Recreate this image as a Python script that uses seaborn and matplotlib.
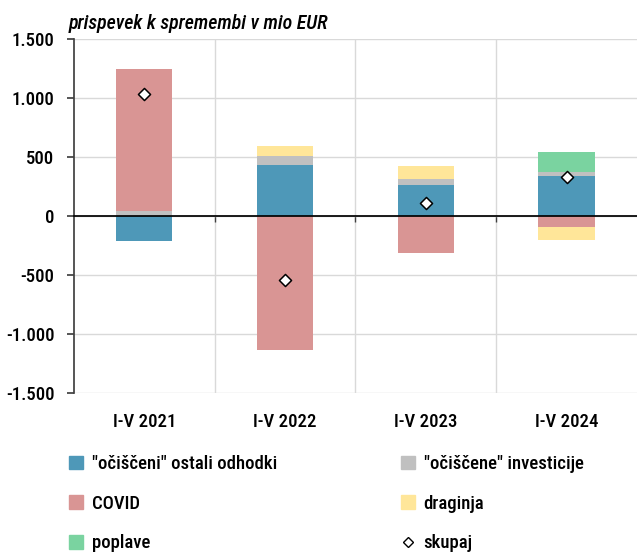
import numpy as np
import pandas as pd
import matplotlib
matplotlib.use("Agg")
import matplotlib.pyplot as plt
import seaborn as sns
from matplotlib.patches import Patch
from matplotlib.lines import Line2D
from matplotlib.ticker import FuncFormatter
from matplotlib import font_manager

categories = ["I-V 2021", "I-V 2022", "I-V 2023", "I-V 2024"]
series_names = ['"očiščeni" ostali odhodki', '"očiščene" investicije', "COVID", "draginja", "poplave"]
ociscene_odhodki = [-212, 432, 263, 339]
ociscene_investicije = [42, 78, 50, 34]
covid = [1200, -1135, -313, -93]
draginja = [0, 83, 110, -110]
poplave = [0, 0, 0, 169]
skupaj = [1032, -542, 110, 330]
total_label = "skupaj"
title = "prispevek k spremembi v mio EUR"

colors = ["#4E98B8", "#C0C0C0", "#D99594", "#FFE699", "#7AD3A0"]
series = [ociscene_odhodki, ociscene_investicije, covid, draginja, poplave]

sns.set_theme(style="white")
available = {f.name for f in font_manager.fontManager.ttflist}
condensed = [n for n in ["Liberation Sans Narrow", "DejaVu Sans Condensed", "Roboto Condensed",
                         "Open Sans Condensed", "Noto Sans Condensed"] if n in available]
if condensed:
    fam = [condensed[0], "DejaVu Sans"]
    fs = 13.5
else:
    fam = ["DejaVu Sans"]
    fs = 10.5
plt.rcParams["font.family"] = fam
plt.rcParams["font.weight"] = "medium"
plt.rcParams["text.color"] = "black"
plt.rcParams["xtick.color"] = "black"
plt.rcParams["ytick.color"] = "black"

fig = plt.figure(figsize=(6.37, 5.54), dpi=100)
ax = fig.add_axes([0.116, 0.2906, 0.884, 0.639])

vals = np.array(series, dtype=float)
pos = np.where(vals > 0, vals, 0).cumsum(axis=0)
neg = np.where(vals < 0, vals, 0).cumsum(axis=0)

for i in range(len(series) - 1, -1, -1):
    for cum in (pos, neg):
        df = pd.DataFrame({"cat": categories, "val": cum[i]})
        sns.barplot(data=df, x="cat", y="val", color=colors[i], width=0.4,
                    saturation=1, ax=ax, linewidth=0, zorder=2)

df_tot = pd.DataFrame({"cat": categories, "val": skupaj})
sns.scatterplot(data=df_tot, x="cat", y="val", marker="D", s=38, color="white",
                edgecolor="black", linewidth=1.1, ax=ax, zorder=5)

ax.set_xlim(-0.5, 3.5)
ax.set_ylim(-1500, 1500)
ax.set_yticks(np.arange(-1500, 1501, 500))
ax.yaxis.set_major_formatter(FuncFormatter(lambda v, p: f"{int(v):,}".replace(",", ".")))
ax.grid(True, axis="y", color="#D9D9D9", linewidth=1, zorder=0)
ax.set_axisbelow(True)
ax.set_xticks([0.5, 1.5, 2.5], minor=True)
ax.grid(True, axis="x", which="minor", color="#D9D9D9", linewidth=1)
ax.set_xlabel("")
ax.set_ylabel("")

for s in ["top", "right"]:
    ax.spines[s].set_visible(False)
ax.spines["left"].set_color("#404040")
ax.spines["bottom"].set_position(("data", 0))
ax.spines["bottom"].set_color("black")
ax.spines["bottom"].set_zorder(4)

ax.tick_params(axis="y", which="major", left=True, length=5, color="#404040",
               labelsize=fs, pad=9)
ax.tick_params(axis="x", which="major", length=0, labelsize=fs, pad=142)
ax.tick_params(axis="x", which="minor", bottom=True, length=4, direction="out", color="#404040")

fig.text(0.107, 0.958, title, fontsize=fs + 0.8, style="italic",
         ha="left", va="center")

handles = [Patch(color=c) for c in colors]
handles.append(Line2D([], [], marker="D", linestyle="none", markerfacecolor="white",
                      markeredgecolor="black", markersize=5))
labels = series_names + [total_label]

common = dict(loc="upper left", frameon=False, fontsize=fs, handlelength=0.75,
              handleheight=0.75, handletextpad=0.45, labelspacing=1.15, borderaxespad=0)
leg1 = fig.legend([handles[0], handles[2], handles[4]], [labels[0], labels[2], labels[4]],
                  bbox_to_anchor=(0.097, 0.192), **common)
leg2 = fig.legend([handles[1], handles[3], handles[5]], [labels[1], labels[3], labels[5]],
                  bbox_to_anchor=(0.618, 0.192), **common)

fig.savefig("out.png", dpi=100)
